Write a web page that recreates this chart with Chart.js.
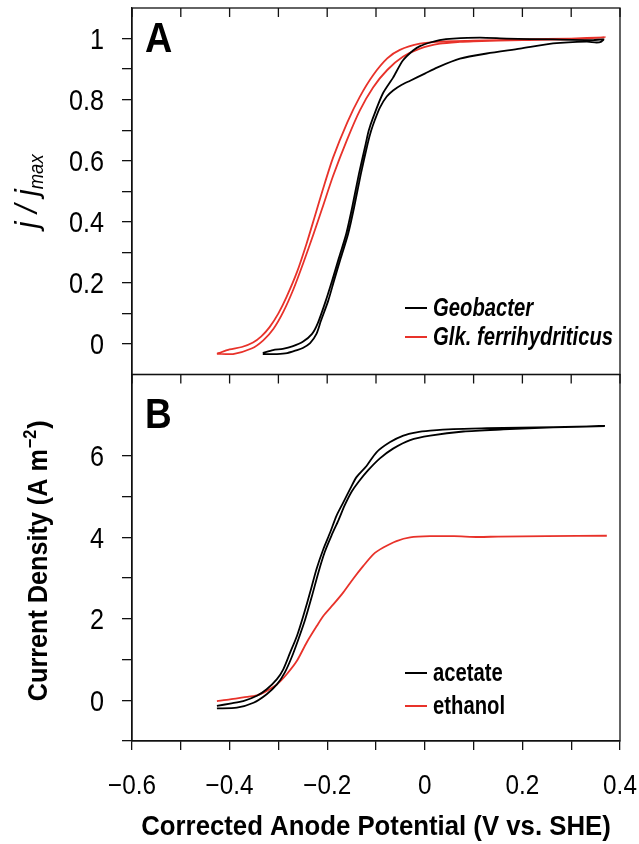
<!DOCTYPE html>
<html>
<head>
<meta charset="utf-8">
<script src="https://cdn.jsdelivr.net/npm/chart.js@4.4.1/dist/chart.umd.min.js"></script>
<style>
  html, body { margin: 0; padding: 0; background: #fff; }
  #wrap { width: 639px; height: 844px; position: relative; }
</style>
</head>
<body>
<div id="wrap"><canvas id="cv" width="639" height="844"></canvas></div>
<script>
// ---- panel A: normalised current j/jmax (CV loops) ----
const geoPotential = [-0.332, -0.303, -0.282, -0.262, -0.250, -0.235, -0.222, -0.213, -0.198, -0.186, -0.172, -0.157, -0.145, -0.131, -0.117, -0.110, -0.102, -0.092, -0.078, -0.065, -0.048, -0.030, 0.000, 0.025, 0.072, 0.127, 0.195, 0.263, 0.332, 0.352, 0.362, 0.366,
  0.345, 0.263, 0.168, 0.113, 0.058, 0.030, 0.011, -0.010, -0.024, -0.045, -0.065, -0.086, -0.106, -0.115, -0.121, -0.135, -0.149, -0.161, -0.176, -0.190, -0.203, -0.219, -0.231, -0.250, -0.270, -0.291, -0.311, -0.332];
const geoJ = [-0.033, -0.033, -0.030, -0.020, -0.013, 0.003, 0.033, 0.075, 0.141, 0.207, 0.282, 0.361, 0.446, 0.557, 0.656, 0.698, 0.735, 0.774, 0.810, 0.830, 0.848, 0.862, 0.885, 0.905, 0.934, 0.951, 0.967, 0.984, 0.990, 0.987, 0.990, 0.997,
  0.995, 0.997, 1.000, 1.003, 1.000, 0.995, 0.987, 0.975, 0.961, 0.928, 0.872, 0.820, 0.741, 0.698, 0.656, 0.557, 0.446, 0.361, 0.282, 0.207, 0.141, 0.069, 0.033, 0.007, -0.007, -0.016, -0.020, -0.030];

const glkPotential = [-0.426, -0.400, -0.375, -0.352, -0.335, -0.318, -0.300, -0.283, -0.262, -0.242, -0.225, -0.210, -0.188, -0.159, -0.133, -0.106, -0.077, -0.051, -0.010, 0.031, 0.100, 0.200, 0.300, 0.369,
  0.300, 0.200, 0.100, 0.072, 0.031, -0.010, -0.045, -0.077, -0.106, -0.133, -0.159, -0.188, -0.210, -0.228, -0.249, -0.269, -0.290, -0.310, -0.331, -0.355, -0.393, -0.426];
const glkJ = [-0.032, -0.018, -0.010, 0.005, 0.025, 0.055, 0.100, 0.155, 0.235, 0.330, 0.420, 0.500, 0.610, 0.725, 0.810, 0.880, 0.935, 0.963, 0.983, 0.990, 0.993, 0.997, 1.000, 1.004,
  0.998, 0.995, 0.991, 0.989, 0.983, 0.967, 0.940, 0.897, 0.840, 0.765, 0.670, 0.550, 0.445, 0.360, 0.265, 0.180, 0.105, 0.050, 0.012, -0.015, -0.033, -0.032];

// ---- panel B: current density (A m-2) ----
const acetatePotential = [-0.426, -0.399, -0.372, -0.344, -0.324, -0.303, -0.290, -0.276, -0.262, -0.249, -0.235, -0.222, -0.208, -0.194, -0.181, -0.167, -0.153, -0.140, -0.119, -0.099, -0.071, -0.044, -0.017, 0.011, 0.058, 0.127, 0.263, 0.369,
  0.263, 0.161, 0.079, 0.011, -0.030, -0.065, -0.092, -0.116, -0.136, -0.150, -0.164, -0.177, -0.191, -0.205, -0.218, -0.231, -0.245, -0.259, -0.273, -0.287, -0.303, -0.324, -0.351, -0.385, -0.426];
const acetateCurrent = [-0.14, -0.08, -0.02, 0.11, 0.27, 0.52, 0.76, 1.17, 1.58, 2.07, 2.65, 3.22, 3.71, 4.12, 4.53, 4.86, 5.19, 5.48, 5.76, 6.09, 6.34, 6.50, 6.58, 6.62, 6.66, 6.68, 6.71, 6.73,
  6.70, 6.65, 6.60, 6.50, 6.39, 6.18, 5.94, 5.65, 5.36, 5.12, 4.79, 4.42, 4.05, 3.64, 3.14, 2.57, 1.99, 1.50, 1.05, 0.68, 0.39, 0.15, -0.06, -0.18, -0.20];

const ethanolPotential = [-0.426, -0.399, -0.372, -0.344, -0.324, -0.303, -0.283, -0.262, -0.242, -0.221, -0.208, -0.187, -0.167, -0.147, -0.126, -0.105, -0.085, -0.058, -0.030, 0.011, 0.060, 0.110, 0.150, 0.250, 0.373];
const ethanolCurrent = [-0.02, 0.02, 0.07, 0.12, 0.23, 0.39, 0.64, 0.97, 1.42, 1.83, 2.07, 2.36, 2.65, 2.98, 3.30, 3.59, 3.75, 3.91, 4.00, 4.03, 4.03, 4.01, 4.02, 4.03, 4.04];

// ---- ticks ----
const xTickValues = [-0.6, -0.5, -0.4, -0.3, -0.2, -0.1, 0, 0.1, 0.2, 0.3, 0.4];
const xTickLabels = ['\u22120.6', '', '\u22120.4', '', '\u22120.2', '', '0', '', '0.2', '', '0.4'];
const yATickValues = [0, 0.1, 0.2, 0.3, 0.4, 0.5, 0.6, 0.7, 0.8, 0.9, 1.0];
const yATickLabels = ['0', '', '0.2', '', '0.4', '', '0.6', '', '0.8', '', '1'];
const yBTickValues = [-1, 0, 1, 2, 3, 4, 5, 6];
const yBTickLabels = ['', '0', '', '2', '', '4', '', '6'];

const BLACK = '#000000';
const RED = '#e8322a';
const SANS = "'Liberation Sans', Arial, sans-serif";

const toPoints = (xs, ys) => xs.map((x, i) => ({x: x, y: ys[i]}));
const fixTicks = values => scale => { scale.ticks = values.map(v => ({value: v})); };

// the original uses a condensed Arial; squeeze Liberation Sans horizontally instead
function squeezed(ctx, text, x, y, font, sx, align) {
  ctx.save();
  ctx.font = font;
  ctx.translate(x, y);
  ctx.scale(sx, 1);
  ctx.textAlign = align || 'left';
  ctx.fillText(text, 0, 0);
  ctx.restore();
}
function squeezedWidth(ctx, text, font, sx) {
  ctx.save();
  ctx.font = font;
  const w = ctx.measureText(text).width * sx;
  ctx.restore();
  return w;
}

const frame = {
  id: 'frame',
  afterDraw(chart) {
    const ctx = chart.ctx;
    const area = chart.chartArea;
    const xs = chart.scales.x;
    ctx.save();
    ctx.strokeStyle = '#111';
    ctx.lineWidth = 1.3;
    // panel boxes and inward ticks on each panel's top edge
    ['yA', 'yB'].forEach(id => {
      const s = chart.scales[id];
      ctx.strokeRect(area.left, s.top, area.right - area.left, s.bottom - s.top);
      ctx.beginPath();
      xTickValues.forEach(v => {
        const px = xs.getPixelForValue(v);
        ctx.moveTo(px, s.top);
        ctx.lineTo(px, s.top + 9);
      });
      ctx.stroke();
    });

    ctx.fillStyle = '#000';
    ctx.textBaseline = 'alphabetic';

    // tick labels
    const yTickFont = '30px ' + SANS;
    [['yA', yATickValues, yATickLabels], ['yB', yBTickValues, yBTickLabels]].forEach(([id, vals, labs]) => {
      const s = chart.scales[id];
      vals.forEach((v, i) => {
        if (labs[i]) squeezed(ctx, labs[i], 104, s.getPixelForValue(v) + 10.5, yTickFont, 0.84, 'right');
      });
    });
    xTickValues.forEach((v, i) => {
      if (xTickLabels[i]) squeezed(ctx, xTickLabels[i], xs.getPixelForValue(v), 794, '27px ' + SANS, 0.9, 'center');
    });

    // panel letters
    squeezed(ctx, 'A', 145, 52, 'bold 42px ' + SANS, 0.9, 'left');
    squeezed(ctx, 'B', 145, 428, 'bold 42px ' + SANS, 0.88, 'left');

    // legends
    const ds = chart.data.datasets;
    const legend = (d, y, font) => {
      ctx.strokeStyle = d.borderColor;
      ctx.lineWidth = 2;
      ctx.beginPath();
      ctx.moveTo(405, y);
      ctx.lineTo(427, y);
      ctx.stroke();
      squeezed(ctx, d.label, 433, y + 8, font, 0.81, 'left');
    };
    legend(ds[0], 308, 'italic bold 25px ' + SANS);
    legend(ds[1], 337, 'italic bold 25px ' + SANS);
    legend(ds[2], 673, 'bold 25px ' + SANS);
    legend(ds[3], 706, 'bold 25px ' + SANS);

    // x title
    squeezed(ctx, 'Corrected Anode Potential (V vs. SHE)', (area.left + area.right) / 2, 835, 'bold 28px ' + SANS, 0.92, 'center');

    // y title A: j / j_max
    const yA = chart.scales.yA;
    ctx.save();
    ctx.translate(37, (yA.top + yA.bottom) / 2);
    ctx.rotate(-Math.PI / 2);
    const mainFont = 'italic 32px ' + SANS;
    const subFont = 'italic 21px ' + SANS;
    const w1 = squeezedWidth(ctx, 'j / j', mainFont, 0.95);
    const w2 = squeezedWidth(ctx, 'max', subFont, 0.88);
    const sx = -(w1 + w2) / 2;
    squeezed(ctx, 'j / j', sx, 0, mainFont, 0.95, 'left');
    squeezed(ctx, 'max', sx + w1, 6, subFont, 0.88, 'left');
    ctx.restore();

    // y title B: Current Density (A m^-2)
    const yB = chart.scales.yB;
    ctx.save();
    ctx.translate(47, (yB.top + yB.bottom) / 2 + 4);
    ctx.rotate(-Math.PI / 2);
    const bFont = 'bold 28px ' + SANS;
    const supFont = 'bold 18px ' + SANS;
    const t1 = squeezedWidth(ctx, 'Current Density (A m', bFont, 0.9);
    const t2 = squeezedWidth(ctx, '\u22122', supFont, 0.9);
    const t3 = squeezedWidth(ctx, ')', bFont, 0.9);
    const bx = -(t1 + t2 + t3) / 2;
    squeezed(ctx, 'Current Density (A m', bx, 0, bFont, 0.9, 'left');
    squeezed(ctx, '\u22122', bx + t1 + 1, -11, supFont, 0.9, 'left');
    squeezed(ctx, ')', bx + t1 + t2 + 2, 0, bFont, 0.9, 'left');
    ctx.restore();

    ctx.restore();
  }
};

const noPad = s => { s.paddingTop = 0; s.paddingBottom = 0; s.paddingLeft = 0; s.paddingRight = 0; };

new Chart(document.getElementById('cv').getContext('2d'), {
  type: 'line',
  data: {
    datasets: [
      {label: 'Geobacter', data: toPoints(geoPotential, geoJ), borderColor: BLACK, yAxisID: 'yA'},
      {label: 'Glk. ferrihydriticus', data: toPoints(glkPotential, glkJ), borderColor: RED, yAxisID: 'yA'},
      {label: 'acetate', data: toPoints(acetatePotential, acetateCurrent), borderColor: BLACK, yAxisID: 'yB'},
      {label: 'ethanol', data: toPoints(ethanolPotential, ethanolCurrent), borderColor: RED, yAxisID: 'yB'}
    ]
  },
  options: {
    responsive: false,
    animation: false,
    events: [],
    layout: {padding: {left: 0, right: 19, top: 8, bottom: 0}},
    elements: {
      point: {radius: 0},
      line: {borderWidth: 1.8, tension: 0.25, fill: false}
    },
    plugins: {legend: {display: false}, tooltip: {enabled: false}},
    scales: {
      x: {
        type: 'linear', position: 'bottom', min: -0.6, max: 0.4,
        afterBuildTicks: fixTicks(xTickValues),
        afterFit: s => { s.height = 103; noPad(s); },
        ticks: {display: false},
        grid: {drawOnChartArea: false, tickLength: 9, color: '#111', lineWidth: 1.3},
        border: {color: '#111', width: 1.3}
      },
      yA: {
        type: 'linear', position: 'left', stack: 'panels', stackWeight: 1, weight: 2,
        min: -0.1, max: 1.1,
        afterBuildTicks: fixTicks(yATickValues),
        afterFit: s => { s.width = 132; noPad(s); },
        ticks: {display: false},
        grid: {drawOnChartArea: false, tickLength: 10, color: '#111', lineWidth: 1.3},
        border: {color: '#111', width: 1.3}
      },
      yB: {
        type: 'linear', position: 'left', stack: 'panels', stackWeight: 1, weight: 1,
        min: -1, max: 8,
        afterBuildTicks: fixTicks(yBTickValues),
        afterFit: s => { s.width = 132; noPad(s); },
        ticks: {display: false},
        grid: {drawOnChartArea: false, tickLength: 10, color: '#111', lineWidth: 1.3},
        border: {color: '#111', width: 1.3}
      }
    }
  },
  plugins: [frame]
});
</script>
</body>
</html>
